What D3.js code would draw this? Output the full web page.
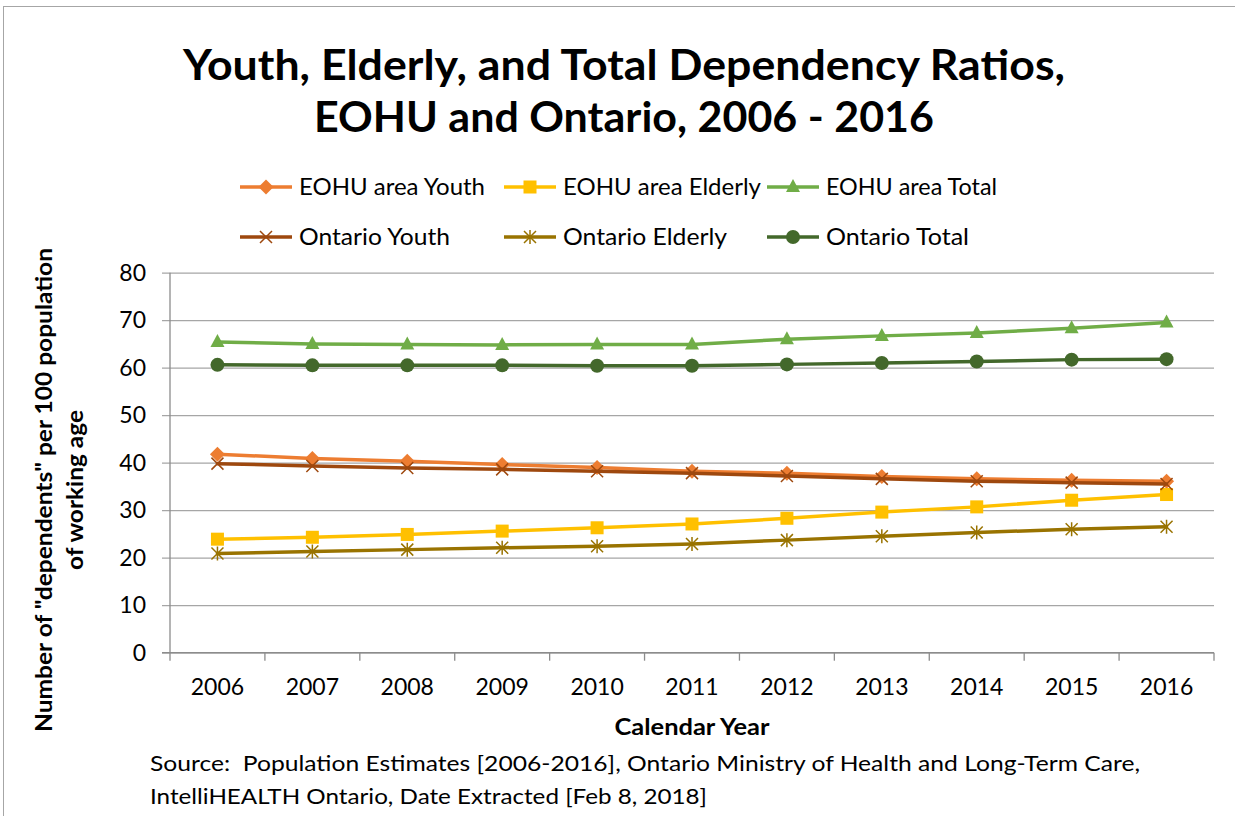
<!DOCTYPE html>
<html>
<head>
<meta charset="utf-8">
<script src="https://cdn.jsdelivr.net/npm/d3@7"></script>
<style>
  html, body { margin: 0; padding: 0; background: #fff; }
  svg { display: block; font-family: Lato, "Open Sans", sans-serif; }
</style>
</head>
<body>
<svg id="chart" width="1235" height="816"></svg>
<script>
'use strict';

// data
const years = ['2006', '2007', '2008', '2009', '2010', '2011', '2012', '2013', '2014', '2015', '2016'];

const eohu_youth    = [41.8, 40.9, 40.3, 39.6, 39.0, 38.2, 37.8, 37.1, 36.6, 36.3, 36.1];
const eohu_elderly  = [23.9, 24.3, 24.9, 25.6, 26.3, 27.1, 28.3, 29.6, 30.7, 32.1, 33.3];
const eohu_total    = [65.4, 65.0, 64.9, 64.8, 64.9, 64.9, 66.0, 66.7, 67.3, 68.3, 69.5];
const ont_youth     = [39.8, 39.3, 38.9, 38.6, 38.2, 37.8, 37.2, 36.6, 36.1, 35.8, 35.5];
const ont_elderly   = [20.9, 21.3, 21.7, 22.1, 22.4, 22.9, 23.7, 24.5, 25.3, 26.0, 26.5];
const ont_total     = [60.6, 60.5, 60.5, 60.5, 60.4, 60.4, 60.7, 61.0, 61.3, 61.7, 61.8];

const y_ticks = [0, 10, 20, 30, 40, 50, 60, 70, 80];

const series = [
    { name: 'EOHU area Youth',   values: eohu_youth,   color: '#ED7D31', marker: 'diamond' },
    { name: 'EOHU area Elderly', values: eohu_elderly, color: '#FFC000', marker: 'square' },
    { name: 'EOHU area Total',   values: eohu_total,   color: '#70AD47', marker: 'triangle' },
    { name: 'Ontario Youth',     values: ont_youth,    color: '#9E480E', marker: 'x' },
    { name: 'Ontario Elderly',   values: ont_elderly,  color: '#997300', marker: 'star' },
    { name: 'Ontario Total',     values: ont_total,    color: '#43682B', marker: 'circle' }
];

const title_lines = ['Youth, Elderly, and Total Dependency Ratios,', 'EOHU and Ontario, 2006 - 2016'];
const y_title_lines = ['Number of "dependents" per 100 population', 'of working age'];
const x_title = 'Calendar Year';
const source_lines = [
    'Source:  Population Estimates [2006-2016], Ontario Ministry of Health and Long-Term Care,',
    'IntelliHEALTH Ontario, Date Extracted [Feb 8, 2018]'
];

// layout
const plot = { left: 170, right: 1214, top: 272.7, bottom: 652.7 };
const GRID = '#a6a6a6';
const AXIS = '#8c8c8c';

const svg = d3.select('#chart');

// outer frame (runs off the right and bottom edge in the source)
svg.append('rect')
    .attr('x', 3.5).attr('y', 6.5)
    .attr('width', 1260).attr('height', 840)
    .attr('fill', '#fff')
    .attr('stroke', '#a6a6a6')
    .attr('stroke-width', 1);

const x = d3.scaleBand().domain(years).range([plot.left, plot.right]);
const y = d3.scaleLinear().domain([0, 80]).range([plot.bottom, plot.top]);

// horizontal gridlines + y labels, axis is hung off the right edge so ticks sweep left
const y_axis = svg.append('g')
    .attr('transform', `translate(${plot.right},0)`)
    .call(d3.axisLeft(y)
        .tickValues(y_ticks)
        .tickSize(plot.right - plot.left + 8)
        .tickPadding(16)
        .tickFormat(d3.format('d')));

y_axis.select('.domain').remove();
y_axis.selectAll('.tick line').attr('stroke', GRID).attr('stroke-width', 1.3);
y_axis.selectAll('.tick text')
    .attr('fill', '#000')
    .style('font-size', '23px')
    .style('font-family', 'Lato, sans-serif');

// y axis line
svg.append('line')
    .attr('x1', plot.left).attr('x2', plot.left)
    .attr('y1', plot.top).attr('y2', plot.bottom)
    .attr('stroke', AXIS).attr('stroke-width', 1.3);

// x axis labels
const x_axis = svg.append('g')
    .attr('transform', `translate(0,${plot.bottom})`)
    .call(d3.axisBottom(x).tickSize(0).tickPadding(26));

x_axis.select('.domain').remove();
x_axis.selectAll('.tick text')
    .attr('fill', '#000')
    .style('font-size', '23px')
    .style('font-family', 'Lato, sans-serif');

// x axis line and the between-category tick marks
svg.append('line')
    .attr('x1', plot.left - 8).attr('x2', plot.right)
    .attr('y1', plot.bottom).attr('y2', plot.bottom)
    .attr('stroke', AXIS).attr('stroke-width', 1.3);

const boundaries = years.map(d => x(d)).concat([x(years[years.length - 1]) + x.step()]);
svg.append('g').selectAll('line')
    .data(boundaries).enter()
    .append('line')
    .attr('x1', d => d).attr('x2', d => d)
    .attr('y1', plot.bottom).attr('y2', plot.bottom + 8)
    .attr('stroke', AXIS).attr('stroke-width', 1.3);

// marker shapes, drawn around 0,0
const drawMarker = (g, kind, color) => {
    switch (kind) {
        case 'diamond':
            g.append('path').attr('d', 'M0,-7.5L7.5,0L0,7.5L-7.5,0Z').attr('fill', color);
            break;
        case 'square':
            g.append('rect').attr('x', -6.5).attr('y', -6.5).attr('width', 13).attr('height', 13).attr('fill', color);
            break;
        case 'triangle':
            g.append('path').attr('d', 'M0,-8L7,5L-7,5Z').attr('fill', color);
            break;
        case 'circle':
            g.append('circle').attr('r', 7).attr('fill', color);
            break;
        case 'x':
            g.append('path').attr('d', 'M-6,-6L6,6M-6,6L6,-6')
                .attr('stroke', color).attr('stroke-width', 1.5).attr('fill', 'none');
            break;
        case 'star':
            g.append('path').attr('d', 'M-6,-6L6,6M-6,6L6,-6M0,-7L0,7')
                .attr('stroke', color).attr('stroke-width', 1.5).attr('fill', 'none');
            break;
    }
};

const line = d3.line()
    .x((d, i) => x(years[i]) + x.bandwidth() / 2)
    .y(d => y(d));

const plot_g = svg.append('g').attr('class', 'series');

series.forEach(s => {
    const g = plot_g.append('g');
    g.append('path')
        .datum(s.values)
        .attr('d', line)
        .attr('fill', 'none')
        .attr('stroke', s.color)
        .attr('stroke-width', 3.5)
        .attr('stroke-linejoin', 'round')
        .attr('stroke-linecap', 'round');

    g.selectAll('.mk')
        .data(s.values).enter()
        .append('g')
        .attr('class', 'mk')
        .attr('transform', (d, i) => `translate(${x(years[i]) + x.bandwidth() / 2},${y(d)})`)
        .each(function () { drawMarker(d3.select(this), s.marker, s.color); });
});

// legend, 3 columns x 2 rows
const legend_cols = [240, 504, 767];
const legend_rows = [187, 237];
const legend_text_w = [186, 198, 171, 151, 164, 143];

const legend = svg.append('g').attr('class', 'legend');
series.forEach((s, i) => {
    const lx = legend_cols[i % 3];
    const ly = legend_rows[Math.floor(i / 3)];
    const item = legend.append('g').attr('transform', `translate(${lx},${ly})`);
    item.append('line')
        .attr('x1', 0).attr('x2', 52)
        .attr('y1', 0).attr('y2', 0)
        .attr('stroke', s.color).attr('stroke-width', 3.5);
    drawMarker(item.append('g').attr('transform', 'translate(26,0)'), s.marker, s.color);
    item.append('text')
        .attr('x', 59).attr('y', 8)
        .attr('textLength', legend_text_w[i])
        .attr('lengthAdjust', 'spacingAndGlyphs')
        .style('font-size', '23px')
        .text(s.name);
});

// title
svg.append('g').selectAll('text')
    .data(title_lines).enter()
    .append('text')
    .attr('x', 624)
    .attr('y', (d, i) => 80 + i * 52)
    .attr('text-anchor', 'middle')
    .attr('textLength', (d, i) => i === 0 ? 882 : 620)
    .attr('lengthAdjust', 'spacingAndGlyphs')
    .style('font-size', '42px')
    .style('font-weight', 'bold')
    .text(d => d);

// y axis title
svg.append('g').selectAll('text')
    .data(y_title_lines).enter()
    .append('text')
    .attr('transform', (d, i) => `translate(${52 + i * 31},490) rotate(-90)`)
    .attr('text-anchor', 'middle')
    .attr('textLength', (d, i) => i === 0 ? 484 : 160)
    .attr('lengthAdjust', 'spacingAndGlyphs')
    .style('font-size', '22px')
    .style('font-weight', 'bold')
    .text(d => d);

// x axis title
svg.append('text')
    .attr('x', 692).attr('y', 735)
    .attr('text-anchor', 'middle')
    .attr('textLength', 155)
    .attr('lengthAdjust', 'spacingAndGlyphs')
    .style('font-size', '22px')
    .style('font-weight', 'bold')
    .text(x_title);

// source note
svg.append('g').selectAll('text')
    .data(source_lines).enter()
    .append('text')
    .attr('x', 150)
    .attr('y', (d, i) => 771 + i * 33)
    .attr('textLength', (d, i) => i === 0 ? 990 : 557)
    .attr('lengthAdjust', 'spacingAndGlyphs')
    .style('white-space', 'pre')
    .style('font-size', '22px')
    .text(d => d);
</script>
</body>
</html>
